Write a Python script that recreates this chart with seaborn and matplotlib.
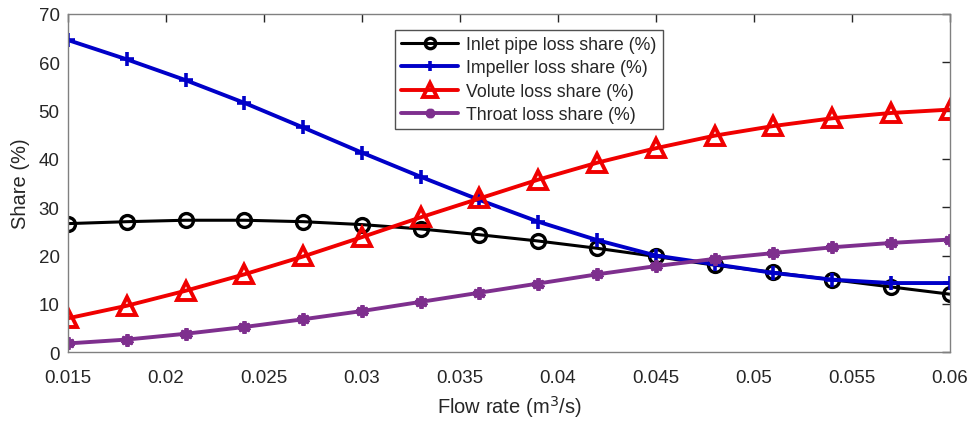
import numpy as np
import pandas as pd
import matplotlib
matplotlib.use("Agg")
import matplotlib.pyplot as plt
import seaborn as sns

flow = [0.015, 0.018, 0.021, 0.024, 0.027, 0.030, 0.033, 0.036,
        0.039, 0.042, 0.045, 0.048, 0.051, 0.054, 0.057, 0.060]
inlet = [26.6, 27.0, 27.3, 27.3, 27.0, 26.4, 25.5, 24.3,
         23.0, 21.5, 19.8, 18.0, 16.5, 15.0, 13.5, 12.0]
impeller = [64.6, 60.6, 56.3, 51.6, 46.5, 41.3, 36.3, 31.5,
            27.0, 23.2, 20.0, 18.2, 16.4, 15.0, 14.3, 14.3]
volute = [7.0, 9.6, 12.7, 16.1, 19.8, 23.8, 27.9, 31.8,
          35.7, 39.2, 42.2, 44.8, 46.8, 48.4, 49.5, 50.2]
throat = [1.8, 2.6, 3.8, 5.2, 6.8, 8.5, 10.4, 12.3,
          14.2, 16.1, 17.8, 19.3, 20.5, 21.7, 22.6, 23.3]

labels = ["Inlet pipe loss share (%)", "Impeller loss share (%)",
          "Volute loss share (%)", "Throat loss share (%)"]
xticks = [0.015, 0.02, 0.025, 0.03, 0.035, 0.04, 0.045, 0.05, 0.055, 0.06]
xticklabels = ["0.015", "0.02", "0.025", "0.03", "0.035", "0.04", "0.045", "0.05", "0.055", "0.06"]

sns.set_style("white")
plt.rcParams['font.family'] = ['Liberation Sans', 'DejaVu Sans']

fig = plt.figure(figsize=(9.71, 4.27), dpi=100)
ax = fig.add_axes([0.070, 0.173, 0.908, 0.792])

series = [inlet, impeller, volute, throat]
colors = ["#000000", "#0000C8", "#F00000", "#7E2F8E"]
styles = [
    dict(marker="o", markersize=10, markerfacecolor="none", markeredgewidth=2.4, linewidth=2.2),
    dict(marker="+", markersize=10, markeredgewidth=2.6, linewidth=2.8),
    dict(marker="^", markersize=13, markerfacecolor="none", markeredgewidth=2.8, linewidth=2.8),
    dict(marker=(6, 2, 0), markersize=9, markeredgewidth=2.8, linewidth=2.8),
]
for vals, lab, c, st in zip(series, labels, colors, styles):
    df = pd.DataFrame({"flow": flow, "share": vals})
    sns.lineplot(data=df, x="flow", y="share", ax=ax, color=c, label=lab,
                 markeredgecolor=c, **st)

ax.set_xlim(0.015, 0.06)
ax.set_ylim(0, 70)
ax.set_xticks(xticks)
ax.set_xticklabels(xticklabels)
ax.set_yticks(range(0, 71, 10))
ax.tick_params(direction="in", length=6, width=1, colors="#262626", labelsize=13.5,
               top=True, right=True, labeltop=False, labelright=False, pad=6)
ax.tick_params(axis="x", pad=12)
for sp in ax.spines.values():
    sp.set_visible(True)
    sp.set_color("#808080")
    sp.set_linewidth(1)
ax.set_xlabel("Flow rate (m$^3$/s)", fontsize=14.5, color="#262626", labelpad=5)
ax.set_ylabel("Share (%)", fontsize=14.5, color="#262626", labelpad=6)

leg = ax.legend(loc="upper left", bbox_to_anchor=(0.371, 0.953), borderaxespad=0,
                fontsize=12.8, frameon=True, fancybox=False, edgecolor="#262626",
                handlelength=3.2, borderpad=0.35, labelspacing=0.36, handletextpad=0.45,
                markerscale=0.75)
leg.get_frame().set_linewidth(1)

fig.savefig("out.png", dpi=100)
